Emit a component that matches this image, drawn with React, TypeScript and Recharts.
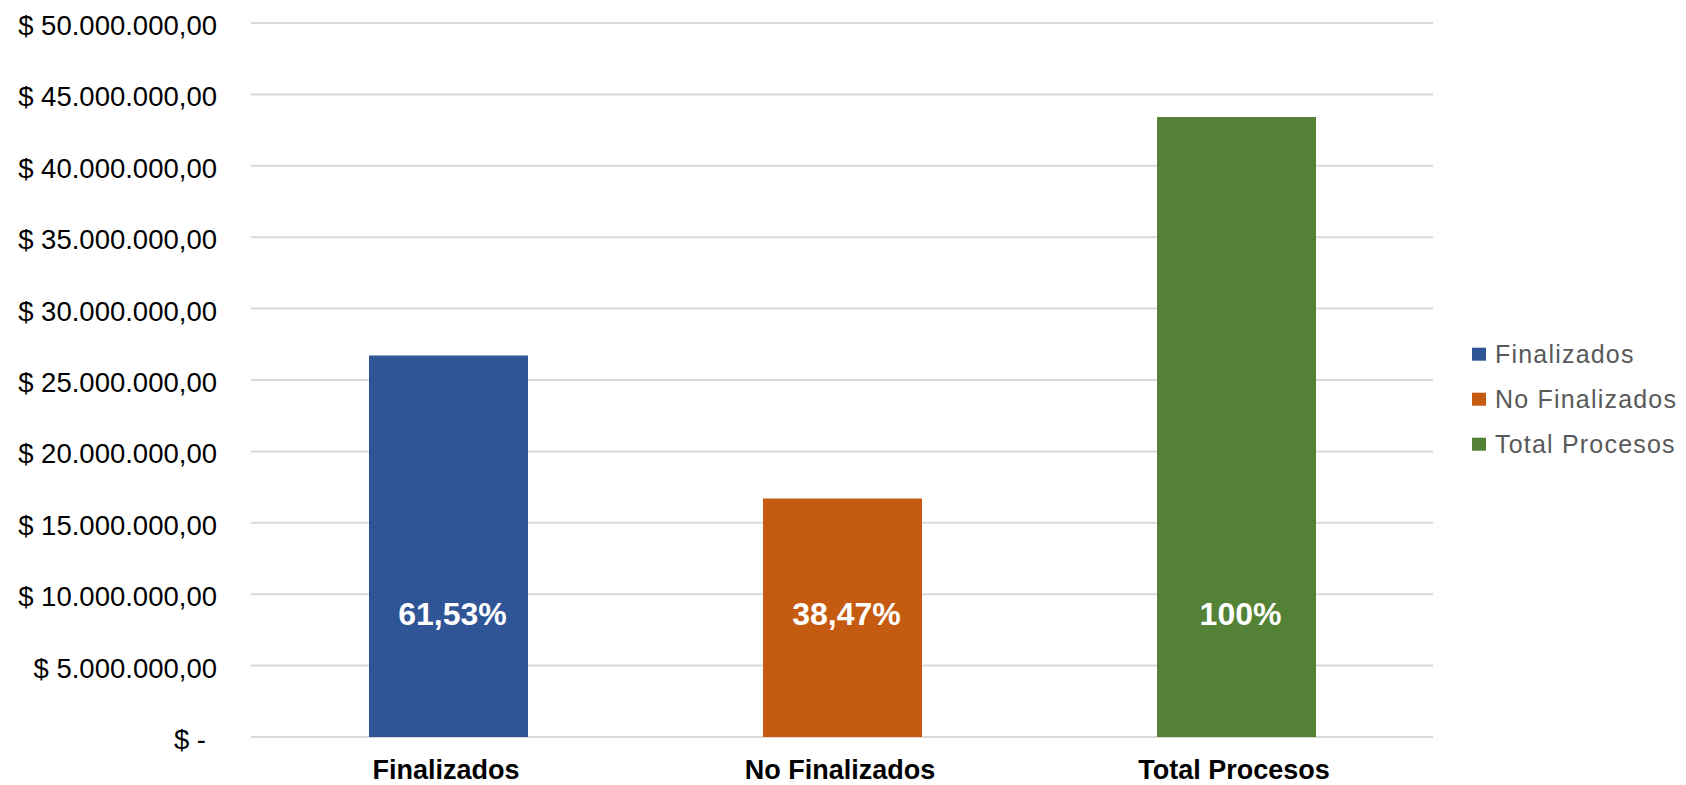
import { BarChart, Bar, XAxis, YAxis, CartesianGrid, Cell, LabelList } from 'recharts'

const CATEGORIES = ['Finalizados', 'No Finalizados', 'Total Procesos']
const AMOUNTS = [26720000, 16700000, 43420000]
const PERCENT_LABELS = ['61,53%', '38,47%', '100%']
const COLORS = ['#2F5597', '#C55A11', '#538135']
const Y_TICKS = [0, 5000000, 10000000, 15000000, 20000000, 25000000, 30000000, 35000000, 40000000, 45000000, 50000000]

const FONT = '"Liberation Sans", Arial, sans-serif'

const chartData = CATEGORIES.map((name, i) => ({
  name,
  amount: AMOUNTS[i],
  pct: PERCENT_LABELS[i],
}))

function formatMoney(v: number) {
  if (v === 0) return '$ -'
  const s = Math.round(v).toString().replace(/\B(?=(\d{3})+(?!\d))/g, '.')
  return `$ ${s},00`
}

// eslint-disable-next-line @typescript-eslint/no-explicit-any
function YTick(props: any) {
  const { x, y, payload } = props
  const zero = payload.value === 0
  return (
    <text x={x} y={y} dx={zero ? -11 : 0} dy={12} textAnchor="end" fill="#000" fontSize={27.5} fontFamily={FONT}>
      {formatMoney(payload.value)}
    </text>
  )
}

// eslint-disable-next-line @typescript-eslint/no-explicit-any
function XTick(props: any) {
  const { x, y, payload } = props
  return (
    <text x={x - 2} y={y} dy={42} textAnchor="middle" fill="#000" fontSize={27} fontWeight="bold" fontFamily={FONT}>
      {payload.value}
    </text>
  )
}

// eslint-disable-next-line @typescript-eslint/no-explicit-any
function PctLabel(props: any) {
  const { x, y, width, height, value } = props
  return (
    <text x={x + width / 2 + 4} y={y + height - 112} textAnchor="middle" fill="#fff" fontSize={32} fontWeight="bold" fontFamily={FONT}>
      {value}
    </text>
  )
}

function LegendOverlay() {
  return (
    <svg width={240} height={140} style={{ position: 'absolute', left: 1460, top: 330 }}>
      {CATEGORIES.map((c, i) => (
        <g key={c} transform={`translate(0, ${i * 45})`}>
          <rect x={12} y={17.7} width={14} height={13} fill={COLORS[i]} />
          <text x={35} y={32.7} fill="#595959" fontSize={25} letterSpacing={1.2} fontFamily={FONT}>
            {c}
          </text>
        </g>
      ))}
    </svg>
  )
}

export default function App() {
  return (
    <div style={{ position: 'absolute', left: 0, top: 0, width: 1686, height: 785, background: '#fff' }}>
      <BarChart width={1686} height={785} data={chartData} margin={{ top: 23, right: 253, left: 0, bottom: 0 }}>
        <CartesianGrid vertical={false} stroke="#D9D9D9" strokeWidth={2} />
        <XAxis dataKey="name" height={48} tick={<XTick />} tickLine={false} axisLine={false} tickSize={0} tickMargin={0} interval={0} />
        <YAxis
          width={251}
          domain={[0, 50000000]}
          ticks={Y_TICKS}
          interval={0}
          tick={<YTick />}
          tickLine={false}
          axisLine={false}
          tickSize={0}
          tickMargin={34}
        />
        <Bar dataKey="amount" barSize={159} isAnimationActive={false}>
          {chartData.map((d, i) => <Cell key={d.name} fill={COLORS[i]} />)}
          <LabelList dataKey="pct" content={<PctLabel />} />
        </Bar>
      </BarChart>
      <LegendOverlay />
    </div>
  )
}
